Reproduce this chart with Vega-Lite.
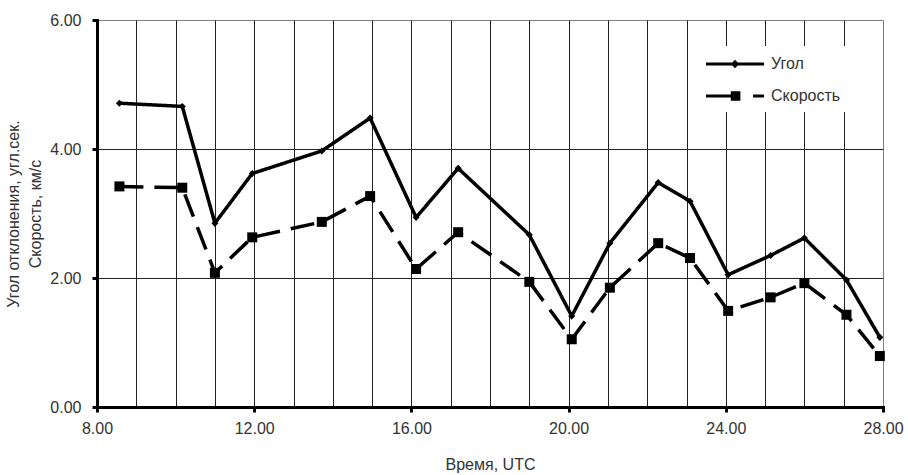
{
  "$schema": "https://vega.github.io/schema/vega-lite/v6.json",
  "width": 786,
  "height": 387,
  "autosize": {"type": "none"},
  "padding": {"left": 97, "top": 20, "right": 25, "bottom": 68},
  "background": "white",
  "config": {
    "font": "Liberation Sans",
    "view": {"stroke": "#808080", "strokeWidth": 1},
    "axis": {
      "labelFont": "Liberation Sans",
      "labelFontSize": 16,
      "labelColor": "#333333",
      "titleFont": "Liberation Sans",
      "titleFontSize": 16,
      "titleFontWeight": "normal",
      "titleColor": "#333333",
      "domainColor": "black",
      "domainWidth": 3,
      "domainCap": "square",
      "tickColor": "black",
      "tickWidth": 3,
      "tickSize": 5,
      "gridColor": "#222222",
      "gridWidth": 1
    },
    "legend": {
      "labelFont": "Liberation Sans",
      "labelFontSize": 16,
      "labelColor": "#333333"
    }
  },
  "data": {
    "values": [
      {"t": 8.57, "series": "Угол", "v": 4.71},
      {"t": 10.17, "series": "Угол", "v": 4.66},
      {"t": 11.0, "series": "Угол", "v": 2.85},
      {"t": 11.95, "series": "Угол", "v": 3.62},
      {"t": 13.72, "series": "Угол", "v": 3.97},
      {"t": 14.95, "series": "Угол", "v": 4.48},
      {"t": 16.12, "series": "Угол", "v": 2.94},
      {"t": 17.19, "series": "Угол", "v": 3.7},
      {"t": 19.0, "series": "Угол", "v": 2.67},
      {"t": 20.08, "series": "Угол", "v": 1.41},
      {"t": 21.05, "series": "Угол", "v": 2.54},
      {"t": 22.28, "series": "Угол", "v": 3.48},
      {"t": 23.09, "series": "Угол", "v": 3.19},
      {"t": 24.06, "series": "Угол", "v": 2.05},
      {"t": 25.14, "series": "Угол", "v": 2.35},
      {"t": 26.0, "series": "Угол", "v": 2.62},
      {"t": 27.07, "series": "Угол", "v": 1.97},
      {"t": 27.92, "series": "Угол", "v": 1.08},
      {"t": 8.57, "series": "Скорость", "v": 3.42},
      {"t": 10.17, "series": "Скорость", "v": 3.4},
      {"t": 11.0, "series": "Скорость", "v": 2.08},
      {"t": 11.95, "series": "Скорость", "v": 2.63},
      {"t": 13.72, "series": "Скорость", "v": 2.87},
      {"t": 14.95, "series": "Скорость", "v": 3.27},
      {"t": 16.12, "series": "Скорость", "v": 2.14},
      {"t": 17.19, "series": "Скорость", "v": 2.71},
      {"t": 19.0, "series": "Скорость", "v": 1.94},
      {"t": 20.08, "series": "Скорость", "v": 1.05},
      {"t": 21.05, "series": "Скорость", "v": 1.85},
      {"t": 22.28, "series": "Скорость", "v": 2.54},
      {"t": 23.09, "series": "Скорость", "v": 2.31},
      {"t": 24.06, "series": "Скорость", "v": 1.49},
      {"t": 25.14, "series": "Скорость", "v": 1.7},
      {"t": 26.0, "series": "Скорость", "v": 1.92},
      {"t": 27.07, "series": "Скорость", "v": 1.43},
      {"t": 27.92, "series": "Скорость", "v": 0.79}
    ]
  },
  "encoding": {
    "x": {
      "field": "t",
      "type": "quantitative",
      "scale": {"domain": [8, 28], "nice": false, "zero": false},
      "axis": {
        "title": "Время, UTC",
        "values": [8, 9, 10, 11, 12, 13, 14, 15, 16, 17, 18, 19, 20, 21, 22, 23, 24, 25, 26, 27, 28],
        "labelExpr": "datum.value % 4 === 0 ? format(datum.value, '.2f') : ''",
        "labelOverlap": false,
        "labelFlush": false,
        "labelPadding": 8,
        "tickOpacity": {"condition": {"test": "datum.value % 4 === 0", "value": 1}, "value": 0},
        "gridOpacity": {"condition": {"test": "datum.value > 8 && datum.value < 28", "value": 1}, "value": 0},
        "titlePadding": 20
      }
    },
    "y": {
      "field": "v",
      "type": "quantitative",
      "scale": {"domain": [0, 6], "nice": false},
      "axis": {
        "title": ["Угол отклонения, угл.сек.", "Скорость, км/с"],
        "titleLineHeight": 22,
        "values": [0, 2, 4, 6],
        "format": ".2f",
        "labelPadding": 11,
        "gridOpacity": {"condition": {"test": "datum.value > 0 && datum.value < 6", "value": 1}, "value": 0},
        "titlePadding": 6
      }
    }
  },
  "layer": [
    {
      "mark": {"type": "line", "color": "black", "strokeWidth": 3.5, "strokeJoin": "miter"},
      "encoding": {
        "strokeDash": {
          "field": "series",
          "type": "nominal",
          "scale": {"domain": ["Угол", "Скорость"], "range": [[1, 0], [24, 11]]},
          "legend": null
        }
      }
    },
    {
      "mark": {"type": "point", "filled": true, "color": "black", "opacity": 1},
      "encoding": {
        "shape": {
          "field": "series",
          "type": "nominal",
          "scale": {"domain": ["Угол", "Скорость"], "range": ["diamond", "square"]},
          "legend": null
        },
        "size": {
          "field": "series",
          "type": "nominal",
          "scale": {"domain": ["Угол", "Скорость"], "range": [50, 100]},
          "legend": null
        }
      }
    },
    {
      "transform": [{"filter": "false"}],
      "mark": {"type": "point", "filled": true, "color": "black", "opacity": 1},
      "encoding": {
        "shape": {
          "field": "series",
          "type": "nominal",
          "scale": {
            "domain": ["Угол", "Скорость"],
            "range": [
              "M-1,-0.16L4.8,-0.16L4.8,0.16L-1,0.16ZM1.9,-0.42L2.32,0L1.9,0.42L1.48,0Z",
              "M-1,-0.16L1.6,-0.16L1.6,0.16L-1,0.16ZM3.7,-0.16L4.8,-0.16L4.8,0.16L3.7,0.16ZM1.48,-0.48L2.44,-0.48L2.44,0.48L1.48,0.48Z"
            ]
          },
          "legend": {
            "title": null,
            "orient": "none",
            "legendX": 601,
            "legendY": 26,
            "fillColor": "white",
            "padding": 8,
            "symbolSize": 400,
            "symbolStrokeWidth": 0,
            "symbolFillColor": "black",
            "labelOffset": 45,
            "rowPadding": 14
          }
        }
      }
    }
  ],
  "resolve": {"scale": {"shape": "independent"}, "legend": {"shape": "independent"}}
}
